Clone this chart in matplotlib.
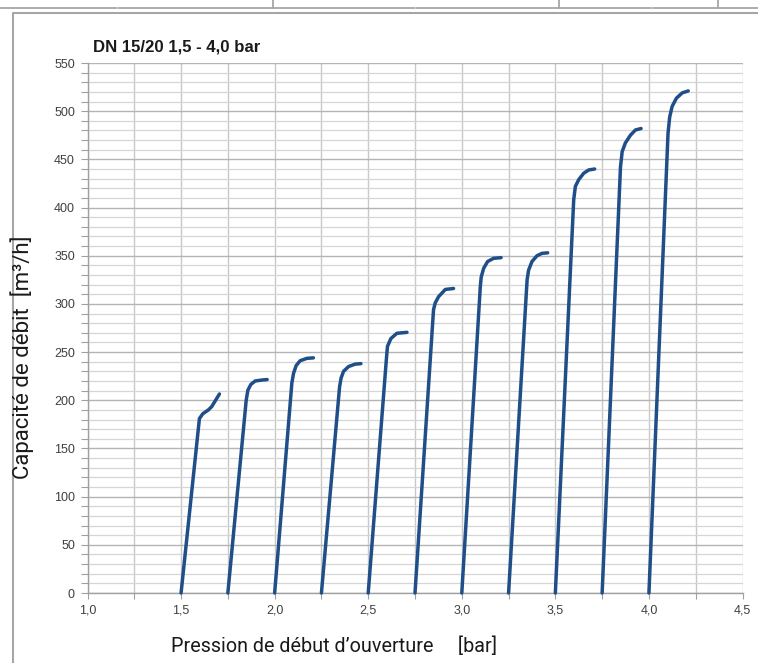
import matplotlib
matplotlib.use("Agg")
import matplotlib.pyplot as plt
from matplotlib.lines import Line2D
from matplotlib.ticker import MultipleLocator, FuncFormatter

# Set pressures of the valve series [bar]
set_pressures = [1.5, 1.75, 2.0, 2.25, 2.5, 2.75, 3.0, 3.25, 3.5, 3.75, 4.0]

# Flow curves: pressure [bar] and discharge capacity [m³/h], one list per set pressure
curve_p = [
    [1.50, 1.598, 1.616, 1.646, 1.664, 1.705],
    [1.75, 1.848, 1.857, 1.873, 1.896, 1.932, 1.960],
    [2.00, 2.092, 2.101, 2.115, 2.136, 2.172, 2.207],
    [2.25, 2.347, 2.355, 2.368, 2.395, 2.430, 2.461],
    [2.50, 2.598, 2.603, 2.621, 2.653, 2.707],
    [2.75, 2.849, 2.858, 2.876, 2.912, 2.956],
    [3.00, 3.099, 3.104, 3.117, 3.138, 3.170, 3.210],
    [3.25, 3.349, 3.357, 3.375, 3.402, 3.429, 3.459],
    [3.50, 3.598, 3.607, 3.625, 3.651, 3.678, 3.710],
    [3.75, 3.848, 3.857, 3.874, 3.901, 3.928, 3.958],
    [4.00, 4.102, 4.111, 4.124, 4.147, 4.178, 4.210],
]
curve_q = [
    [0, 181, 186, 190, 193.5, 206.5],
    [0, 200, 210.5, 216.5, 220, 221, 221.5],
    [0, 218, 228, 236, 241, 243.5, 244],
    [0, 214, 223, 230, 235, 237.5, 238],
    [0, 245, 256, 264, 269.5, 270.5],
    [0, 294, 301, 307.5, 315, 316],
    [0, 318, 328, 337, 344, 347.3, 348],
    [0, 325, 335, 344, 350, 352.5, 353],
    [0, 408, 422, 429, 435.5, 439, 440],
    [0, 442, 458, 467, 475, 480.5, 482],
    [0, 477, 494, 505, 513.5, 519, 521],
]

title = "DN 15/20 1,5 - 4,0 bar"
xlabel = "Pression de début d\u2019ouverture     [bar]"
ylabel = "Capacité de débit  [m\u00b3/h]"

W, H = 758, 663
fig = plt.figure(figsize=(W / 100, H / 100), dpi=100)


def fx(px):
    return px / W


def fy(py):
    return 1 - py / H


# Spreadsheet cell borders above the chart frame
frame_col = "#a6a6a6"
fig.add_artist(Line2D([0, 1], [fy(7.5), fy(7.5)], transform=fig.transFigure,
                      color=frame_col, lw=1.3))
for xv in (273, 559, 718):
    fig.add_artist(Line2D([fx(xv), fx(xv)], [1, fy(7.5)], transform=fig.transFigure,
                          color=frame_col, lw=1.3))
for xv in (117, 415, 651):
    fig.add_artist(Line2D([fx(xv), fx(xv)], [fy(6.5), fy(7.5)], transform=fig.transFigure,
                          color="#d0d0d0", lw=1.0))
# Chart frame (left and top edges)
fig.add_artist(Line2D([fx(12.5), fx(12.5), 1], [0, fy(12.5), fy(12.5)],
                      transform=fig.transFigure, color=frame_col, lw=1.5))

ax = fig.add_axes([fx(87.5), fy(593), fx(742.5) - fx(87.5), fy(63) - fy(593)])
ax.set_xlim(1.0, 4.5)
ax.set_ylim(0, 550)

ax.xaxis.set_major_locator(MultipleLocator(0.5))
ax.xaxis.set_minor_locator(MultipleLocator(0.25))
ax.yaxis.set_major_locator(MultipleLocator(50))
ax.yaxis.set_minor_locator(MultipleLocator(10))
ax.xaxis.set_major_formatter(FuncFormatter(lambda v, _: f"{v:.1f}".replace(".", ",")))

ax.grid(which="major", axis="y", color="#b4b4b4", lw=1.0)
ax.grid(which="minor", axis="y", color="#d6d6d6", lw=0.9)
ax.grid(which="both", axis="x", color="#c8c8c8", lw=1.0)
ax.set_axisbelow(True)

for s in ("top", "right"):
    ax.spines[s].set_visible(False)
for s in ("left", "bottom"):
    ax.spines[s].set_color("#a0a0a0")
    ax.spines[s].set_linewidth(1.0)

ax.tick_params(axis="both", which="both", colors="#a0a0a0", labelcolor="#404040",
               labelsize=9, width=0.8)
ax.tick_params(axis="y", which="both", length=5, pad=4)
ax.tick_params(axis="x", which="both", length=4, pad=4)
for lab in ax.get_xticklabels() + ax.get_yticklabels():
    lab.set_fontfamily("Liberation Sans")

for p, q in zip(curve_p, curve_q):
    ax.plot(p, q, color="#1f4e89", lw=2.5, solid_joinstyle="round",
            solid_capstyle="round", clip_on=False, zorder=3)

fig.text(fx(93), fy(47), title, family="Liberation Sans", weight="bold",
         size=12.1, color="#1a1a1a", ha="left", va="center")
fig.text(fx(334), fy(646), xlabel, family="Roboto", size=14.2, color="#1a1a1a",
         ha="center", va="center")
fig.text(fx(22), fy(357), ylabel, family="Roboto", size=16, color="#1a1a1a",
         ha="center", va="center", rotation=90)

fig.savefig("out.png", dpi=100)
